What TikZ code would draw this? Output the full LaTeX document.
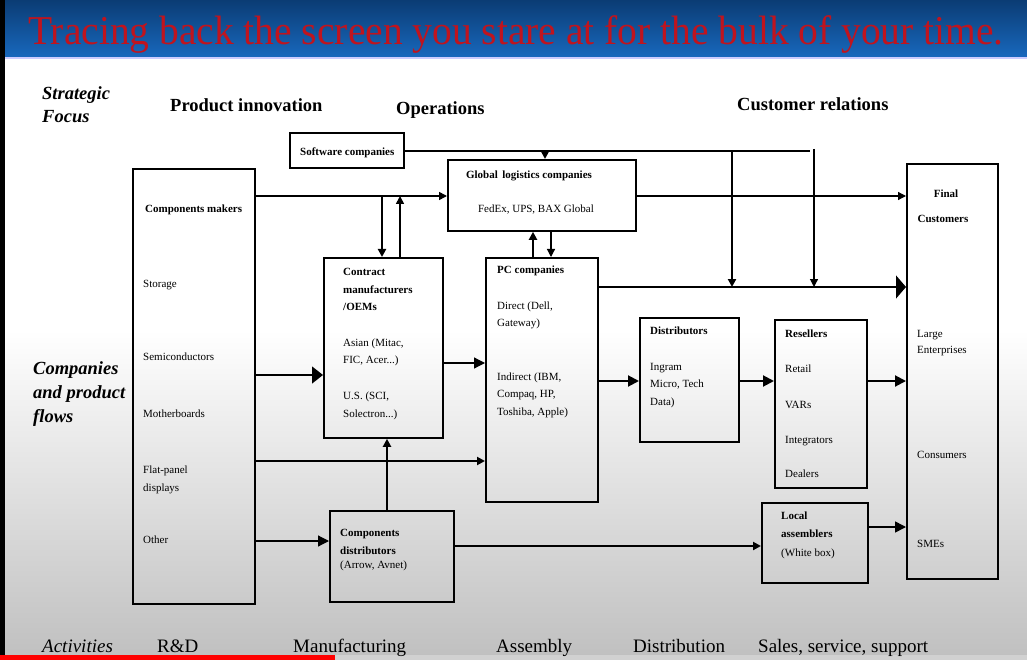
\documentclass[tikz,border=0pt]{standalone}
\usepackage{fontspec}
\setmainfont{Liberation Serif}
\usetikzlibrary{arrows.meta,calc}
\definecolor{bannertop}{HTML}{0B3C74}
\definecolor{bannerbot}{HTML}{1868BD}
\definecolor{titlered}{HTML}{C0141E}
\begin{document}
\begin{tikzpicture}[x=1pt,y=-1pt,
  box/.style={draw, line width=1.8pt, anchor=north west, inner sep=0pt},
  tx/.style={anchor=base west, inner sep=0pt, font=\fontsize{11}{12}\selectfont},
  tb/.style={anchor=base west, inner sep=0pt, font=\fontsize{11}{12}\selectfont\bfseries},
  tc/.style={anchor=base, inner sep=0pt, font=\fontsize{11}{12}\selectfont\bfseries},
  hd/.style={anchor=base west, inner sep=0pt, font=\fontsize{18.5}{20}\selectfont\bfseries},
  hi/.style={anchor=base west, inner sep=0pt, font=\fontsize{18.5}{20}\selectfont\bfseries\itshape},
  act/.style={anchor=base west, inner sep=0pt, font=\fontsize{19}{21}\selectfont},
  thk/.style={line width=2pt},
  thn/.style={line width=1.2pt},
  sm/.style={-{Triangle[length=8pt,width=8pt]}},
  md/.style={-{Triangle[length=11pt,width=11pt]}},
  bg/.style={-{Triangle[length=11pt,width=17pt]}},
  hg/.style={-{Triangle[length=10pt,width=23pt]}}
]
\useasboundingbox (0,0) rectangle (1027,660);
% background
\fill[white] (0,57) rectangle (1027,330);
\shade[top color=white, bottom color=black!25] (0,330) rectangle (1027,660);
\shade[top color=bannertop, bottom color=bannerbot] (0,0) rectangle (1027,57);
\fill[blue!20!white] (0,57) rectangle (1027,59);
\fill[black] (0,0) rectangle (5,660);
\fill[red] (0,655) rectangle (335,660);
\fill[black!18] (335,655) rectangle (1027,660);
% title
\node[anchor=base west, inner sep=0pt, text=titlered, font=\fontsize{41}{44}\selectfont, xscale=0.963] (title) at (28,45) {Tracing back the screen you stare at for the bulk of your time.};
% headers
\node[hi] (sf1) at (42,100) {Strategic};
\node[hi] (sf2) at (42,123) {Focus};
\node[hd] (hpi) at (170,112) {Product innovation};
\node[hd] (hop) at (396,115) {Operations};
\node[hd] (hcr) at (737,111) {Customer relations};
\node[hi] (cp1) at (33,374) {Companies};
\node[hi] (cp2) at (33,398) {and product};
\node[hi] (cp3) at (33,422) {flows};
\node[act, font=\fontsize{19}{21}\selectfont\itshape] (a0) at (42,652) {Activities};
\node[act] (a1) at (157,652) {R\&D};
\node[act] (a2) at (293,652) {Manufacturing};
\node[act] (a3) at (496,652) {Assembly};
\node[act] (a4) at (633,652) {Distribution};
\node[act] (a5) at (758,652) {Sales, service, support};
% boxes
\node[box, minimum width=114, minimum height=35] (sw) at (289,132) {};
\node[box, minimum width=122, minimum height=435] (cm) at (132,168) {};
\node[box, minimum width=188, minimum height=71] (gl) at (447,159) {};
\node[box, minimum width=119, minimum height=180] (co) at (323,257) {};
\node[box, minimum width=112, minimum height=244] (pc) at (485,257) {};
\node[box, minimum width=99, minimum height=124] (di) at (639,317) {};
\node[box, minimum width=92, minimum height=168] (re) at (774,319) {};
\node[box, minimum width=106, minimum height=80, line width=2.4pt] (la) at (761,502) {};
\node[box, minimum width=91, minimum height=415, line width=2.4pt] (fc) at (906,163) {};
\node[box, minimum width=124, minimum height=91] (cd) at (329,510) {};
% box texts
\node[tb] (swt) at (300,156) {Software companies};
\node[tb] (cmt) at (145,213) {Components makers};
\node[tx] (cm1) at (143,287) {Storage};
\node[tx] (cm2) at (143,360) {Semiconductors};
\node[tx] (cm3) at (143,417) {Motherboards};
\node[tx] (cm4) at (143,473) {Flat-panel};
\node[tx] (cm5) at (143,491) {displays};
\node[tx] (cm6) at (143,543) {Other};
\node[tc] (glt) at (529,179) {Global\, logistics companies};
\node[tx, anchor=base] (gl1) at (536,213) {FedEx, UPS, BAX Global};
\node[tb] (co1) at (343,276) {Contract};
\node[tb] (co2) at (343,293) {manufacturers};
\node[tb] (co3) at (343,310) {/OEMs};
\node[tx] (co4) at (343,346) {Asian (Mitac,};
\node[tx] (co5) at (343,363) {FIC, Acer...)};
\node[tx] (co6) at (343,399) {U.S. (SCI,};
\node[tx] (co7) at (343,417) {Solectron...)};
\node[tb] (pc1) at (497,273) {PC companies};
\node[tx] (pc2) at (497,309) {Direct (Dell,};
\node[tx] (pc3) at (497,326) {Gateway)};
\node[tx] (pc4) at (497,380) {Indirect (IBM,};
\node[tx] (pc5) at (497,397) {Compaq, HP,};
\node[tx] (pc6) at (497,415) {Toshiba, Apple)};
\node[tb] (di1) at (650,334) {Distributors};
\node[tx] (di2) at (650,370) {Ingram};
\node[tx] (di3) at (650,387) {Micro, Tech};
\node[tx] (di4) at (650,405) {Data)};
\node[tb] (re1) at (785,337) {Resellers};
\node[tx] (re2) at (785,372) {Retail};
\node[tx] (re3) at (785,408) {VARs};
\node[tx] (re4) at (785,443) {Integrators};
\node[tx] (re5) at (785,477) {Dealers};
\node[tc] (fc1) at (946,198) {Final};
\node[tc] (fc2) at (943,223) {Customers};
\node[tx] (fc3) at (917,337) {Large};
\node[tx] (fc4) at (917,353) {Enterprises};
\node[tx] (fc5) at (917,458) {Consumers};
\node[tx] (fc6) at (917,547) {SMEs};
\node[tb] (cd1) at (340,536) {Components};
\node[tb] (cd2) at (340,554) {distributors};
\node[tx] (cd3) at (340,568) {(Arrow, Avnet)};
\node[tb] (la1) at (781,519) {Local};
\node[tb] (la2) at (781,537) {assemblers};
\node[tx] (la3) at (781,556) {(White box)};
% free ends
\coordinate (swend) at (810,151);
\coordinate (pcmid) at (713,287);
% connectors
\draw[thk] (sw.east |- 0,151) -- (swend);
\draw[thk, sm] (545,151) -- (545,0 |- gl.north);
\draw[thk, sm] (732,151) -- (732,287);
\draw[thn, sm] (814,149) -- (814,287);
\draw[line width=1.6pt, sm] (cm.east |- 0,196) -- (gl.west |- 0,196);
\draw[thk, sm] (382,196) -- (382,0 |- co.north);
\draw[line width=1.6pt, sm] (400,0 |- co.north) -- (400,196);
\draw[thn, sm] (gl.east |- 0,196) -- (fc.west |- 0,196);
\draw[thk, sm] (533,0 |- pc.north) -- (533,0 |- gl.south);
\draw[thn, sm] (551,0 |- gl.south) -- (551,0 |- pc.north);
\draw[thk] (pc.east |- 0,287) -- (pcmid);
\draw[thn, hg] (pcmid) -- (fc.west |- 0,287);
\draw[thn, bg] (cm.east |- 0,375) -- (co.west |- 0,375);
\draw[thn, md] (co.east |- 0,363) -- (pc.west |- 0,363);
\draw[thk, md] (pc.east |- 0,381) -- (di.west |- 0,381);
\draw[thk, md] (di.east |- 0,381) -- (re.west |- 0,381);
\draw[thk, md] (re.east |- 0,381) -- (fc.west |- 0,381);
\draw[thk, sm] (cm.east |- 0,461) -- (pc.west |- 0,461);
\draw[thn, md] (cm.east |- 0,541) -- (cd.west |- 0,541);
\draw[thk, sm] (387,0 |- cd.north) -- (387,0 |- co.south);
\draw[thk, sm] (cd.east |- 0,546) -- (la.west |- 0,546);
\draw[line width=1.5pt, md] (la.east |- 0,527) -- (fc.west |- 0,527);
\end{tikzpicture}
\end{document}
